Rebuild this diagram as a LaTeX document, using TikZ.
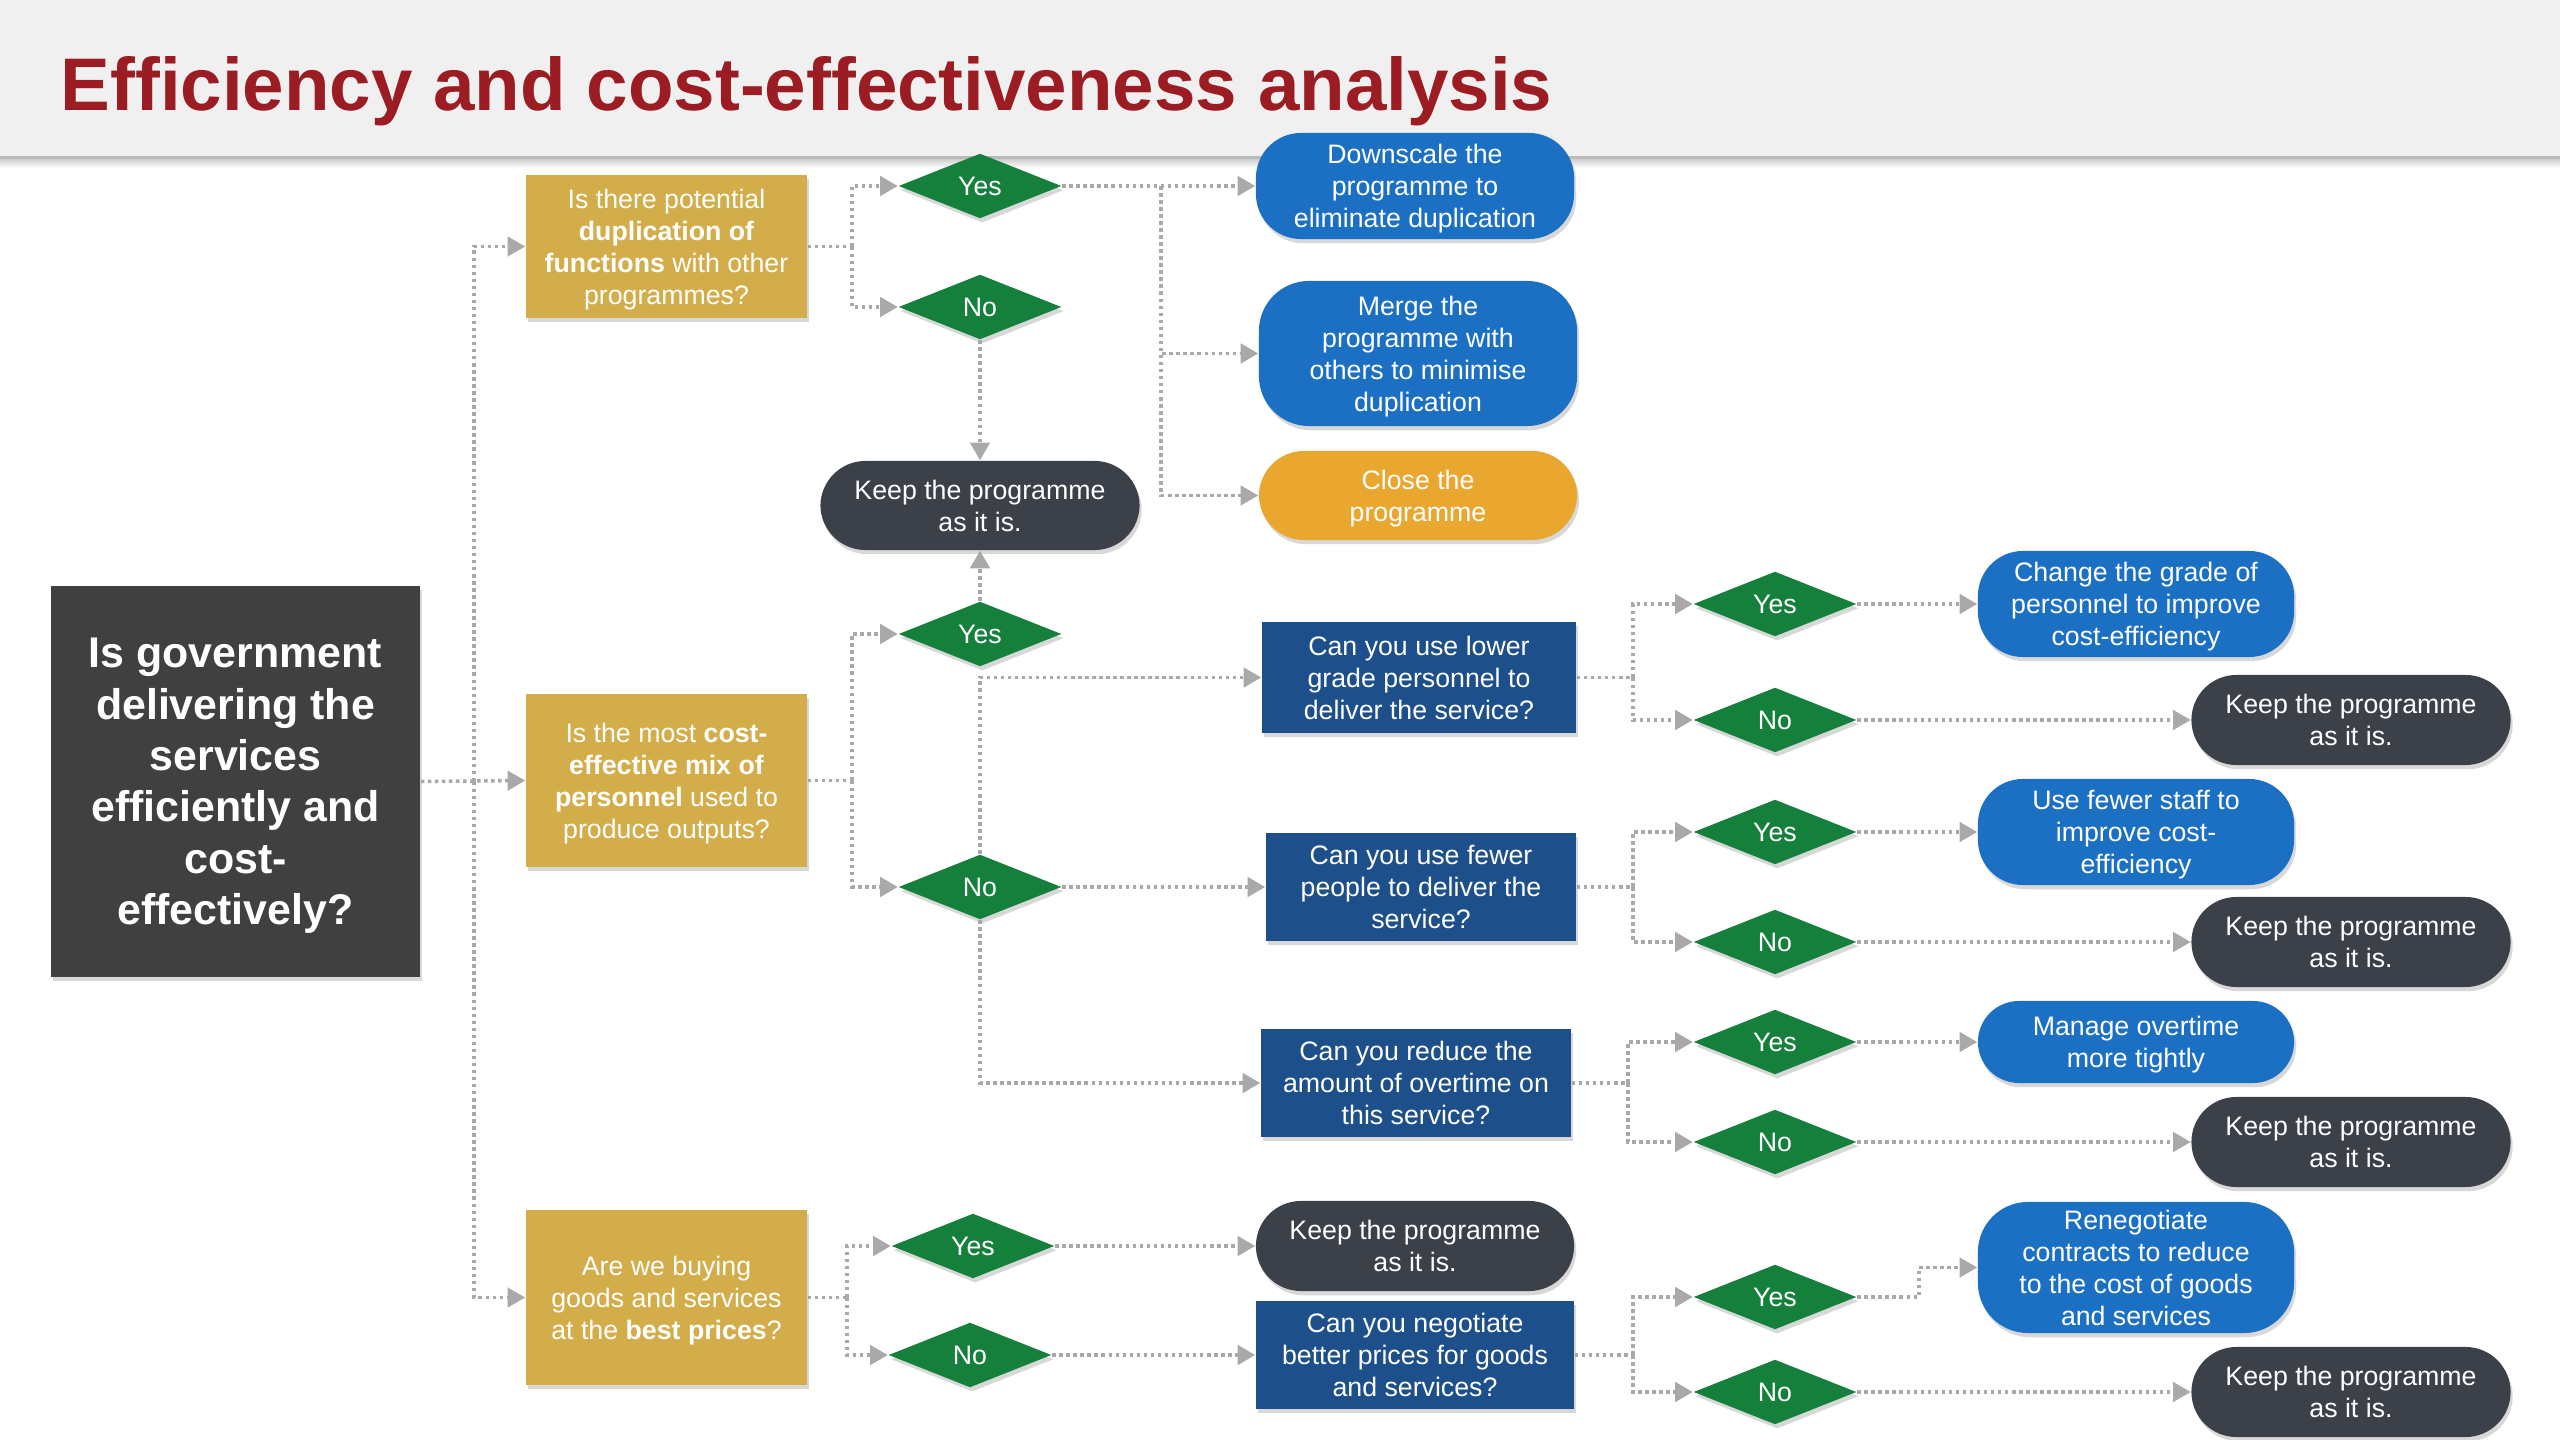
\documentclass[tikz,border=0pt]{standalone}
\usepackage{fontspec}
\setmainfont{Liberation Sans}
\usetikzlibrary{shapes.geometric,shapes.misc,arrows.meta,shadows}
\definecolor{titlered}{HTML}{9B1C22}
\definecolor{hdr}{HTML}{F0F0F0}
\definecolor{gold}{HTML}{D4AD4B}
\definecolor{maingray}{HTML}{404040}
\definecolor{dgreen}{HTML}{15803C}
\definecolor{slate}{HTML}{3B4049}
\definecolor{tblue}{HTML}{1C70C4}
\definecolor{qblue}{HTML}{1D4F8B}
\definecolor{orng}{HTML}{EAA72F}
\definecolor{conn}{HTML}{A9A9A9}
\begin{document}
\begin{tikzpicture}[x=0.01cm,y=-0.01cm,
 base/.style={text=white, inner sep=0pt, align=center, text depth=0pt, font=\fontsize{7.6}{9.1}\selectfont,
   drop shadow={shadow xshift=0.6pt,shadow yshift=-1.2pt,opacity=0.3}},
 goldbox/.style={base, fill=gold, minimum width=2.81cm},
 qbox/.style={base, fill=qblue},
 dia/.style={base, diamond, fill=dgreen, minimum width=1.63cm, minimum height=0.65cm},
 pill/.style={base, rectangle, rounded corners=0.45cm, minimum width=3.18cm},
 keep/.style={pill, fill=slate, minimum height=0.9cm},
 act/.style={pill, fill=tblue},
 link/.style={draw=conn, line width=1pt, dash pattern=on 1pt off 1pt},
 arr/.style={link, -{Triangle[length=5pt,width=5.5pt,fill=conn]}},
]
\fill[white] (0,0) rectangle (2560,1440);
\useasboundingbox (0,0) rectangle (2560,1440);
\fill[hdr] (0,0) rectangle (2560,158);
\shade[top color=gray!45, bottom color=white] (0,157) rectangle (2560,168);
\fill[gray!55] (0,156) rectangle (2560,159);
\node[anchor=base west, text=titlered, font=\fontsize{21.2}{25}\selectfont\bfseries, inner sep=0pt] (title) at (60,111) {Efficiency and cost-effectiveness analysis};

% main question
\node[base, fill=maingray, minimum width=3.69cm, minimum height=3.91cm, font=\fontsize{12.2}{14.6}\selectfont\bfseries] (main) at (235.5,781.5) {Is government\\delivering the\\services\\efficiently and\\cost-\\effectively?};

% gold questions
\node[goldbox, minimum height=1.43cm] (q1) at (666.5,246.5) {Is there potential\\\textbf{duplication of}\\\textbf{functions} with other\\programmes?};
\node[goldbox, minimum height=1.73cm] (q2) at (666.5,780.5) {Is the most \textbf{cost-}\\\textbf{effective mix of}\\\textbf{personnel} used to\\produce outputs?};
\node[goldbox, minimum height=1.75cm] (q3) at (666.5,1297.5) {Are we buying\\goods and services\\at the \textbf{best prices}?};

% first diamonds
\node[dia] (d1y) at (980,186) {Yes};
\node[dia] (d1n) at (980,307) {No};
\node[dia] (d2y) at (980,634) {Yes};
\node[dia] (d2n) at (980,887) {No};
\node[dia] (d3y) at (973,1246) {Yes};
\node[dia] (d3n) at (970,1355) {No};

% middle column
\node[keep, minimum width=3.19cm, minimum height=0.89cm] (keep1) at (980,505.5) {Keep the programme\\as it is.};
\node[act, minimum height=1.06cm] (down) at (1415,186) {Downscale the\\programme to\\eliminate duplication};
\node[act, minimum height=1.45cm, rounded corners=0.5cm] (merge) at (1418,353.5) {Merge the\\programme with\\others to minimise\\duplication};
\node[pill, fill=orng, minimum height=0.89cm] (close) at (1418,495.5) {Close the\\programme};
\node[qbox, minimum width=3.14cm, minimum height=1.11cm] (b1) at (1419,677.5) {Can you use lower\\grade personnel to\\deliver the service?};
\node[qbox, minimum width=3.10cm, minimum height=1.08cm] (b2) at (1421,887) {Can you use fewer\\people to deliver the\\service?};
\node[qbox, minimum width=3.10cm, minimum height=1.08cm] (b3) at (1416,1083) {Can you reduce the\\amount of overtime on\\this service?};
\node[keep, minimum height=0.90cm] (keep3) at (1415,1246) {Keep the programme\\as it is.};
\node[qbox, minimum width=3.18cm, minimum height=1.08cm] (b4) at (1415,1355) {Can you negotiate\\better prices for goods\\and services?};

% second diamonds
\node[dia] (b1y) at (1775,604) {Yes};
\node[dia] (b1n) at (1775,720) {No};
\node[dia] (b2y) at (1775,832) {Yes};
\node[dia] (b2n) at (1775,942) {No};
\node[dia] (b3y) at (1775,1042) {Yes};
\node[dia] (b3n) at (1775,1142) {No};
\node[dia] (b4y) at (1775,1297) {Yes};
\node[dia] (b4n) at (1775,1392) {No};

% right column
\node[act, minimum width=3.16cm, minimum height=1.06cm] (t1) at (2136,604) {Change the grade of\\personnel to improve\\cost-efficiency};
\node[act, minimum width=3.16cm, minimum height=1.06cm] (t2) at (2136,832) {Use fewer staff to\\improve cost-\\efficiency};
\node[act, minimum width=3.16cm, minimum height=0.82cm, rounded corners=0.41cm] (t3) at (2136,1042) {Manage overtime\\more tightly};
\node[act, minimum width=3.16cm, minimum height=1.31cm, rounded corners=0.5cm] (t4) at (2136,1267.5) {Renegotiate\\contracts to reduce\\to the cost of goods\\and services};
\node[keep, minimum width=3.19cm] (k1) at (2351,720) {Keep the programme\\as it is.};
\node[keep, minimum width=3.19cm] (k2) at (2351,942) {Keep the programme\\as it is.};
\node[keep, minimum width=3.19cm] (k3) at (2351,1142) {Keep the programme\\as it is.};
\node[keep, minimum width=3.19cm] (k4) at (2351,1392) {Keep the programme\\as it is.};

% junction coordinates
\coordinate (spine) at (474,781.5);
\coordinate (s1) at (852,246.5);
\coordinate (s2) at (852,780.5);
\coordinate (s3) at (847,1297.5);
\coordinate (j1) at (1161,186);
\coordinate (sb1) at (1633,677.5);
\coordinate (sb2) at (1633,887);
\coordinate (sb3) at (1628,1083);
\coordinate (sb4) at (1633,1355);
\coordinate (e4) at (1919,1297);

% connectors
\draw[arr] (main.east) -- (q2.west);
\draw[arr] (spine) |- (q1.west);
\draw[arr] (spine) |- (q3.west);

\draw[link] (q1.east) -- (s1);
\draw[arr] (s1) |- (d1y.west);
\draw[arr] (s1) |- (d1n.west);
\draw[arr] (d1y.east) -- (down.west);
\draw[arr] (j1) |- (merge.west);
\draw[arr] (j1) |- (close.west);
\draw[arr] (d1n.south) -- (keep1.north);

\draw[link] (q2.east) -- (s2);
\draw[arr] (s2) |- (d2y.west);
\draw[arr] (s2) |- (d2n.west);
\draw[arr] (d2y.north) -- (keep1.south);
\draw[arr] (d2n.north) |- (b1.west);
\draw[arr] (d2n.east) -- (b2.west);
\draw[arr] (d2n.south) |- (b3.west);

\draw[link] (q3.east) -- (s3);
\draw[arr] (s3) |- (d3y.west);
\draw[arr] (s3) |- (d3n.west);
\draw[arr] (d3y.east) -- (keep3.west);
\draw[arr] (d3n.east) -- (b4.west);

\draw[link] (b1.east) -- (sb1);
\draw[arr] (sb1) |- (b1y.west);
\draw[arr] (sb1) |- (b1n.west);
\draw[link] (b2.east) -- (sb2);
\draw[arr] (sb2) |- (b2y.west);
\draw[arr] (sb2) |- (b2n.west);
\draw[link] (b3.east) -- (sb3);
\draw[arr] (sb3) |- (b3y.west);
\draw[arr] (sb3) |- (b3n.west);
\draw[link] (b4.east) -- (sb4);
\draw[arr] (sb4) |- (b4y.west);
\draw[arr] (sb4) |- (b4n.west);

\draw[arr] (b1y.east) -- (t1.west);
\draw[arr] (b1n.east) -- (k1.west);
\draw[arr] (b2y.east) -- (t2.west);
\draw[arr] (b2n.east) -- (k2.west);
\draw[arr] (b3y.east) -- (t3.west);
\draw[arr] (b3n.east) -- (k3.west);
\draw[arr] (b4y.east) -- (e4) |- (t4.west);
\draw[arr] (b4n.east) -- (k4.west);
\end{tikzpicture}
\end{document}
